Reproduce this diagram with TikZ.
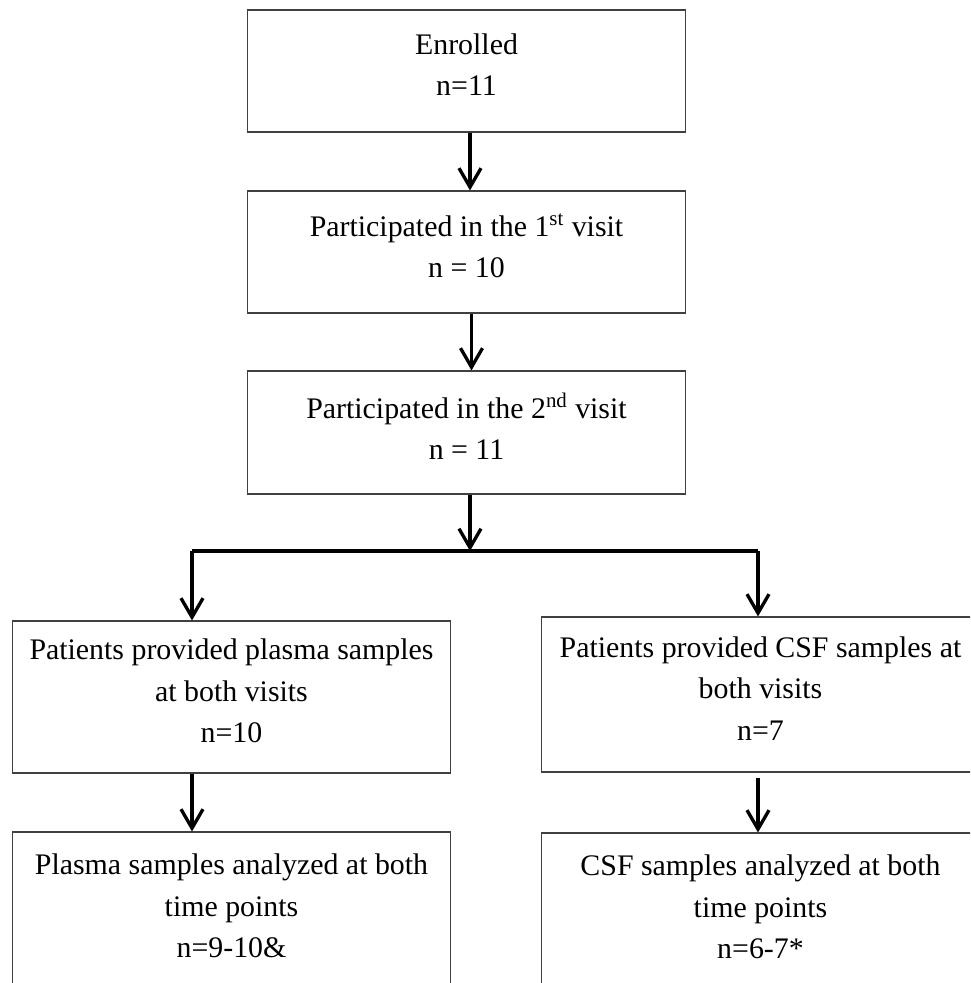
\documentclass[tikz,border=0pt]{standalone}
\usepackage{fontspec}
\setmainfont{Liberation Serif}
\usetikzlibrary{arrows.meta, positioning}

\begin{document}
\begin{tikzpicture}[
  x=0.02cm, y=-0.02cm,
  >={Straight Barb[length=3.8mm, width=4.4mm]},
  every node/.style={font=\fontsize{17}{23.5}\selectfont},
  box/.style={draw=black!75, line width=0.6pt, fill=white, align=center,
              minimum width=8.78cm, inner sep=2pt, text depth=7pt},
  flow/.style={->, line width=1.9pt},
  bar/.style={line width=2.4pt}
]
\clip (0,0) rectangle (970,983);
\fill[white] (0,0) rectangle (970,983);
% main column
\node[box, minimum height=2.44cm] (enrol) at (466.5,71) {Enrolled\\n=11};
\node[box, minimum height=2.44cm] (visit1) at (466.5,252)
  {Participated in the 1\textsuperscript{st} visit\\n = 10};
\node[box, minimum height=2.46cm] (visit2) at (466.5,432.5)
  {Participated in the 2\textsuperscript{nd} visit\\n = 11};
% two branches
\node[box, minimum height=3.04cm] (plasma) at (231.5,697)
  {Patients provided plasma samples\\at both visits\\n=10};
\node[box, minimum height=3.1cm] (csf) at (760.5,694.5)
  {Patients provided CSF samples at\\both visits\\n=7};
\node[box, minimum height=3.2cm] (plasmaA) at (231.5,912)
  {Plasma samples analyzed at both\\time points\\n=9-10\&};
\node[box, minimum height=3.2cm] (csfA) at (760.5,913)
  {CSF samples analyzed at both\\time points\\n=6-7*};
\coordinate (split) at (470,551);
\coordinate (armL) at (192,551);
\coordinate (armR) at (758,551);
\draw[flow] ([xshift=0.07cm]enrol.south) -- ([xshift=0.07cm]visit1.north);
\draw[flow] ([xshift=0.1cm]visit1.south) -- ([xshift=0.1cm]visit2.north);
\draw[flow] (visit2.south -| split) -- (split);
\draw[bar] (armL) -- (armR);
\draw[flow] (armL) -- (armL |- plasma.north);
\draw[flow] (armR) -- (armR |- csf.north);
\draw[flow] (plasma.south -| armL) -- (plasmaA.north -| armL);
\draw[flow] ([yshift=-0.1cm]csf.south -| armR) -- (csfA.north -| armR);
\end{tikzpicture}
\end{document}
